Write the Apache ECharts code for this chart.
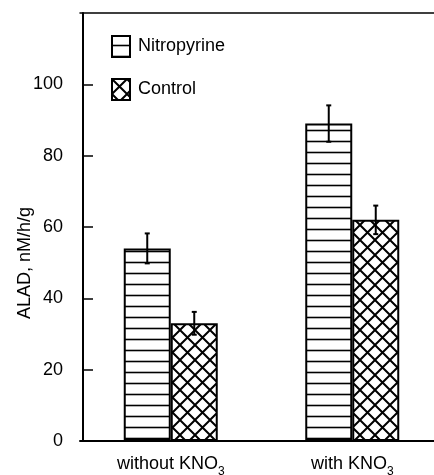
<!DOCTYPE html>
<html>
<head>
<meta charset="utf-8">
<script src="https://cdn.jsdelivr.net/npm/echarts@6/dist/echarts.min.js"></script>
<style>
    html, body { margin: 0; padding: 0; background: #fff; }
    #chart { width: 434px; height: 475px; }
</style>
</head>
<body>
<div id="chart"></div>
<script>
"use strict";

var categories = ['without KNO', 'with KNO'];
var nitro_values = [54, 89];
var nitro_errors = [4.2, 5.1];
var control_values = [33, 62];
var control_errors = [3.2, 4];
var y_ticks = { min: 0, max: 120, interval: 20 };

var FONT = 'Liberation Sans';
var BAR_WIDTH = 47;

function make_pattern(kind) {
    var c = document.createElement('canvas');
    var ctx;
    if (kind === 'hline') {
        c.width = 10; c.height = 11;
        ctx = c.getContext('2d');
        ctx.fillStyle = '#fff';
        ctx.fillRect(0, 0, 10, 11);
        ctx.strokeStyle = '#000';
        ctx.lineWidth = 1.6;
        ctx.beginPath();
        ctx.moveTo(0, 9.5);
        ctx.lineTo(10, 9.5);
        ctx.stroke();
    } else {
        var s = 15;
        c.width = s; c.height = s;
        ctx = c.getContext('2d');
        ctx.fillStyle = '#fff';
        ctx.fillRect(0, 0, s, s);
        ctx.strokeStyle = '#000';
        ctx.lineWidth = 2;
        ctx.beginPath();
        for (var k = -1; k <= 1; k++) {
            ctx.moveTo(k * s, 0); ctx.lineTo(k * s + s, s);
            ctx.moveTo(k * s + s, 0); ctx.lineTo(k * s, s);
        }
        ctx.stroke();
    }
    return { image: c, repeat: 'repeat' };
}

function error_data(values, errors) {
    var out = [];
    for (var i = 0; i < values.length; i++) {
        out.push([i, values[i] - errors[i], values[i] + errors[i]]);
    }
    return out;
}

function error_renderer(offset) {
    return function (params, api) {
        var x = api.coord([api.value(0), 0])[0] + offset;
        var lo = api.coord([api.value(0), api.value(1)])[1];
        var hi = api.coord([api.value(0), api.value(2)])[1];
        var style = { stroke: '#000', lineWidth: 2 };
        return {
            type: 'group',
            children: [
                { type: 'line', shape: { x1: x, y1: lo, x2: x, y2: hi }, style: style },
                { type: 'line', shape: { x1: x - 2.5, y1: lo, x2: x + 2.5, y2: lo }, style: style },
                { type: 'line', shape: { x1: x - 2.5, y1: hi, x2: x + 2.5, y2: hi }, style: style }
            ]
        };
    };
}

var myChart = echarts.init(document.getElementById('chart'));

var option = {
    animation: false,
    backgroundColor: '#fff',
    textStyle: { fontFamily: FONT, color: '#000' },
    grid: { left: 80, right: -9, top: 13, bottom: 34, containLabel: false, outerBoundsMode: 'none' },
    legend: {
        data: ['Nitropyrine', 'Control'],
        orient: 'vertical',
        left: 106,
        top: 30,
        icon: 'rect',
        itemWidth: 18,
        itemHeight: 21,
        itemGap: 20,
        selectedMode: false,
        itemStyle: { borderColor: '#000', borderWidth: 2 },
        textStyle: { fontFamily: FONT, fontSize: 18, color: '#000', padding: [0, 0, 0, 3] }
    },
    graphic: [{
        type: 'text',
        x: 25,
        y: 263,
        rotation: Math.PI / 2,
        style: {
            text: 'ALAD, nM/h/g',
            font: '18px "' + FONT + '"',
            fill: '#000',
            align: 'center',
            verticalAlign: 'middle'
        }
    }],
    xAxis: [{
        type: 'category',
        data: categories,
        axisLine: { lineStyle: { color: '#000', width: 2 } },
        axisTick: { show: false },
        axisLabel: {
            margin: 14,
            formatter: function (v) { return '{a|' + v + '}{s|3}'; },
            rich: {
                a: { fontFamily: FONT, fontSize: 18, color: '#000', lineHeight: 18, verticalAlign: 'top' },
                s: { fontFamily: FONT, fontSize: 12, color: '#000', lineHeight: 23, verticalAlign: 'bottom' }
            }
        }
    }, {
        type: 'category',
        position: 'top',
        data: categories,
        axisLine: { lineStyle: { color: '#000', width: 1.5 } },
        axisTick: { show: false },
        axisLabel: { show: false }
    }],
    yAxis: {
        type: 'value',
        min: y_ticks.min,
        max: y_ticks.max,
        interval: y_ticks.interval,
        offset: -3,
        splitLine: { show: false },
        axisLine: { show: true, lineStyle: { color: '#000', width: 2 } },
        axisTick: { show: true, inside: true, length: 10, lineStyle: { color: '#000', width: 1.5 } },
        axisLabel: { margin: 20, showMaxLabel: false, fontFamily: FONT, fontSize: 18, color: '#000' }
    },
    series: [
        {
            name: 'Nitropyrine',
            type: 'bar',
            barWidth: BAR_WIDTH,
            barGap: '0%',
            itemStyle: { color: make_pattern('hline'), borderColor: '#000', borderWidth: 2 },
            data: nitro_values
        },
        {
            name: 'Control',
            type: 'bar',
            barWidth: BAR_WIDTH,
            barGap: '0%',
            itemStyle: { color: make_pattern('cross'), borderColor: '#000', borderWidth: 2 },
            data: control_values
        },
        {
            type: 'custom',
            z: 10,
            renderItem: error_renderer(-BAR_WIDTH / 2),
            data: error_data(nitro_values, nitro_errors)
        },
        {
            type: 'custom',
            z: 10,
            renderItem: error_renderer(BAR_WIDTH / 2),
            data: error_data(control_values, control_errors)
        }
    ]
};

myChart.setOption(option, true);
</script>
</body>
</html>
